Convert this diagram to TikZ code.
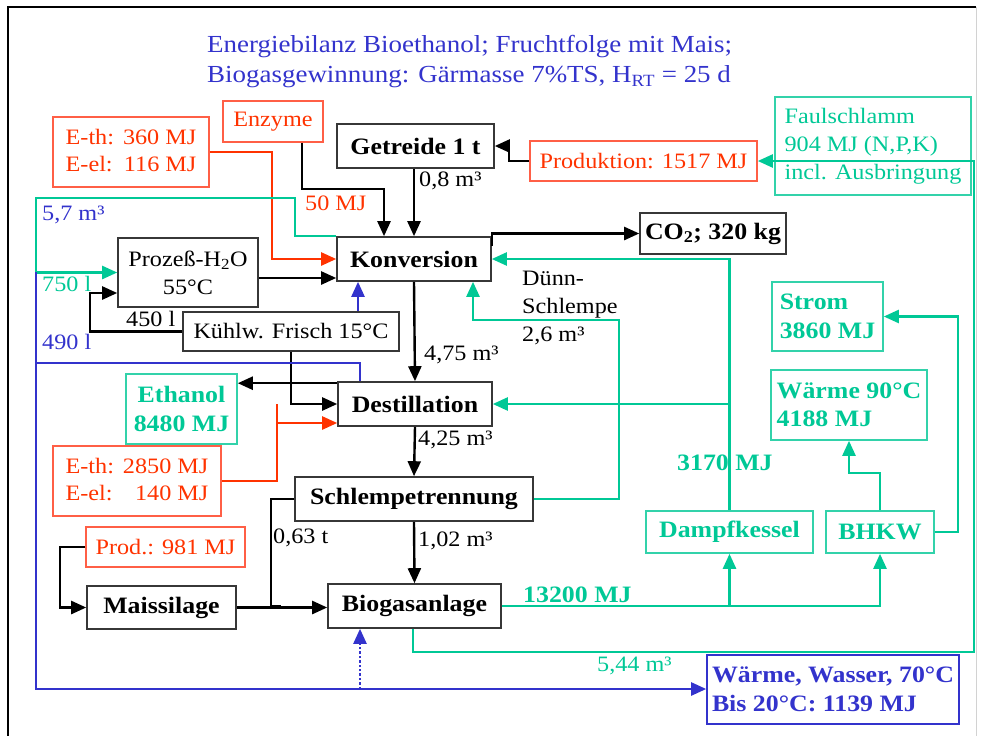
\documentclass[tikz,border=0pt]{standalone}
\usepackage{fontspec}
\setmainfont{Liberation Serif}[FakeStretch=1.1]
\usetikzlibrary{arrows.meta}

\definecolor{tred}{RGB}{255,51,0}
\definecolor{tredbox}{RGB}{255,95,70}
\definecolor{tgreen}{RGB}{0,200,150}
\definecolor{tgreenbox}{RGB}{50,210,170}
\definecolor{tblue}{RGB}{51,51,204}
\definecolor{boxgray}{RGB}{55,55,55}

\newcommand\regfont{\fontsize{22}{28}\selectfont}
\newcommand\boldfont{\fontsize{23.5}{28.5}\selectfont\bfseries}

\tikzset{
  tip/.style={-{Triangle[length=15pt,width=13pt]}},
  blackbox/.style={draw=boxgray, line width=1.6pt, inner sep=0pt, font=\boldfont, align=center},
  plainbox/.style={draw=boxgray, line width=1.6pt, inner sep=0pt, font=\regfont, align=center},
  redbox/.style={draw=tredbox, line width=1.6pt, inner sep=0pt, font=\regfont, text=tred, align=center},
  greenbox/.style={draw=tgreenbox, line width=1.6pt, inner sep=0pt, font=\boldfont, text=tgreen, align=center},
  blk/.style={draw=black, line width=2.4pt},
  grn/.style={draw=tgreen, line width=2.4pt},
  rd/.style={draw=tred, line width=2.4pt},
  blu/.style={draw=tblue, line width=2.4pt},
  lbl/.style={anchor=west, inner sep=0pt, font=\regfont},
}

\begin{document}
\begin{tikzpicture}[x=1pt,y=-1pt]
\useasboundingbox (0,0) rectangle (986,736);

% page frame
\draw[line width=2.6pt] (8,736) -- (8,7) -- (976,7);
\draw[gray!35, line width=1pt] (976,7) -- (976,736);

% heading
\node[anchor=west, inner sep=0pt, text=tblue, font=\fontsize{24.5}{30}\selectfont, align=left] (title) at (207,62)
  {Energiebilanz Bioethanol; Fruchtfolge mit Mais;\\Biogasgewinnung: Gärmasse 7\%TS, H\textsubscript{RT} = 25 d};

% boxes
\node[redbox, minimum width=156, minimum height=70] (eth1) at (131,152)
  {\begin{tabular}{@{}l@{\hspace{9pt}}r@{}}E-th: & 360 MJ\\[-1pt] E-el: & 116 MJ\end{tabular}};
\node[redbox, minimum width=100, minimum height=41] (enz) at (273,121.5) {Enzyme};
\node[blackbox, minimum width=157, minimum height=44] (getr) at (415.5,146) {Getreide 1 t};
\node[redbox, minimum width=227, minimum height=40] (prod) at (643.5,161) {Produktion: 1517 MJ};
\node[draw=tgreenbox, line width=1.6pt, font=\regfont, text=tgreen, align=left,
      inner sep=0pt, minimum width=196, minimum height=98] (faul) at (873,146)
  {Faulschlamm\\904 MJ (N,P,K)\\incl. Ausbringung};
\node[blackbox, minimum width=146, minimum height=41] (co2) at (713,233.5) {CO\textsubscript{2}; 320 kg};
\node[blackbox, minimum width=154, minimum height=44] (konv) at (414,259) {Konversion};
\node[plainbox, minimum width=140, minimum height=69] (proz) at (188,272.5) {Prozeß-H\textsubscript{2}O\\55°C};
\node[plainbox, minimum width=216, minimum height=39] (kuehl) at (291,331.5) {Kühlw. Frisch 15°C};
\node[greenbox, align=left, minimum width=111, minimum height=69] (strom) at (827.5,316.5)
  {Strom\\3860 MJ};
\node[greenbox, align=left, minimum width=156, minimum height=70] (w90) at (849,405)
  {Wärme 90°C\\4188 MJ};
\node[greenbox, minimum width=111, minimum height=70] (eth) at (181.5,409) {Ethanol\\8480 MJ};
\node[blackbox, minimum width=154, minimum height=44] (dest) at (415,404) {Destillation};
\node[redbox, minimum width=168, minimum height=70] (eth2) at (137,481)
  {\begin{tabular}{@{}l@{\hspace{9pt}}r@{}}E-th: & 2850 MJ\\[-1pt] E-el: & 140 MJ\end{tabular}};
\node[blackbox, minimum width=238, minimum height=44] (schl) at (414,499) {Schlempetrennung};
\node[redbox, minimum width=159, minimum height=40] (p981) at (165.5,547) {Prod.: 981 MJ};
\node[blackbox, minimum width=149, minimum height=43] (mais) at (161.5,607.5) {Maissilage};
\node[blackbox, minimum width=173, minimum height=44] (bio) at (414.5,606) {Biogasanlage};
\node[greenbox, minimum width=167, minimum height=42] (dampf) at (729.5,532) {Dampfkessel};
\node[greenbox, minimum width=108, minimum height=42] (bhkw) at (880,532) {BHKW};
\node[draw=tblue, line width=1.6pt, font=\boldfont, text=tblue, align=left,
      inner sep=0pt, minimum width=252, minimum height=69] (ww) at (833,689.5)
  {Wärme, Wasser, 70°C\\Bis 20°C: 1139 MJ};

% corner points of the long loops
\coordinate (gTop) at (36,198);
\coordinate (bTop) at (36,272);
\coordinate (bMid) at (36,363);
\coordinate (bLow) at (36,689);
\coordinate (rRight) at (974,161);
\coordinate (sRight) at (958,400);

% grain, enzymes and process energy into the conversion
\draw[blk,tip] ([xshift=29]enz.south) -- ++(0,46) -| ([xshift=-30]konv.north);
\draw[blk,tip] ([xshift=-1.5]getr.south) -- (konv.north);
\draw[blk,tip] (prod.west) -- ++(-20,0) |- (getr.east);
\draw[rd,tip] (eth1.east) -| ([xshift=-64]konv.west) -- (konv.west);
\draw[blk,tip] ([yshift=-10]konv.north east) |- (co2.west);

% water circuits
\draw[grn,tip] (konv.north west) -- ++(-41,0) |- (gTop) |- (proz.west);
\draw[blk,tip] ([yshift=-5.5]proz.east) -- ([yshift=-5.5]proz.east -| konv.west);
\draw[blk,tip] (kuehl.west) -| (90,300) |- ([yshift=-20.5]proz.west);
\draw[blu,tip] ([xshift=67]kuehl.north) -- ([xshift=67]kuehl.north |- konv.south);
\draw[blk,tip] (kuehl.south) |- (dest.west);
\draw[blu] ([xshift=-55]dest.north) |- (bMid);
\draw[blu,tip] (bTop) -- (bLow) -- (bLow -| ww.west);
\coordinate (bDot) at ([xshift=-54.5]bio.south);
\draw[blu,tip,dotted] (bDot |- bLow) -- (bDot);

% main process chain
\draw[blk,tip] (konv.south) -- (dest.north);
\coordinate (dEth) at ([yshift=-2]dest.north west);
\draw[blk,tip] (dEth) -- (dEth -| eth.east);
\draw[rd,tip] (eth2.east) -| ([xshift=-60]dest.west) |- ([yshift=-19]dest.west);
\draw[blk,tip] (dest.south) -- (schl.north);
\draw[blk,tip] (schl.south) -- (bio.north);
\draw[blk] (schl.west) -| (271,606) -- (281,606);
\draw[blk,tip] (p981.west) -- ++(-25,0) |- (mais.west);
\draw[blk,tip] (mais.east) -- (mais.east -| bio.west);

% thin stillage back to the conversion
\draw[grn,tip] (schl.east) -| (619,320) -| ([xshift=59]konv.south);

% biogas use
\draw[grn,tip] (bio.east) -| (bhkw.south);
\draw[grn,tip] (bio.east -| dampf.south) -- (dampf.south);
\draw[grn,tip] (dampf.north) |- (konv.east);
\draw[grn,tip] (dampf.north |- dest.east) -- (dest.east);
\draw[grn,tip] (bhkw.north) -- ++(0,-37) -| (w90.south);
\draw[grn,tip] (bhkw.east) -| (sRight) |- (strom.east);
\draw[grn,tip] ([xshift=-1.5]bio.south) -- ++(0,23) -| (rRight) -- (prod.east);

% flow labels
\node[lbl, text=tred] (l50) at (305,203) {50 MJ};
\node[lbl] (l08) at (419,181) {0,8 m³};
\node[lbl, text=tblue] (l57) at (42,215) {5,7 m³};
\node[lbl, text=tgreen] (l750) at (42,284) {750 l};
\node[lbl] (l450) at (126,319) {450 l};
\node[lbl, text=tblue] (l490) at (42,342) {490 l};
\node[lbl, align=left] (ldue) at (522,308) {Dünn-\\Schlempe\\2,6 m³};
\node[lbl] (l475) at (424,355) {4,75 m³};
\node[lbl] (l425) at (418,440) {4,25 m³};
\node[lbl] (l063) at (273,538) {0,63 t};
\node[lbl] (l102) at (418,541) {1,02 m³};
\node[lbl, font=\boldfont, text=tgreen] (l3170) at (677,463) {3170 MJ};
\node[lbl, font=\boldfont, text=tgreen] (l13200) at (523,595) {13200 MJ};
\node[lbl, text=tgreen] (l544) at (597,666) {5,44 m³};
\end{tikzpicture}
\end{document}
